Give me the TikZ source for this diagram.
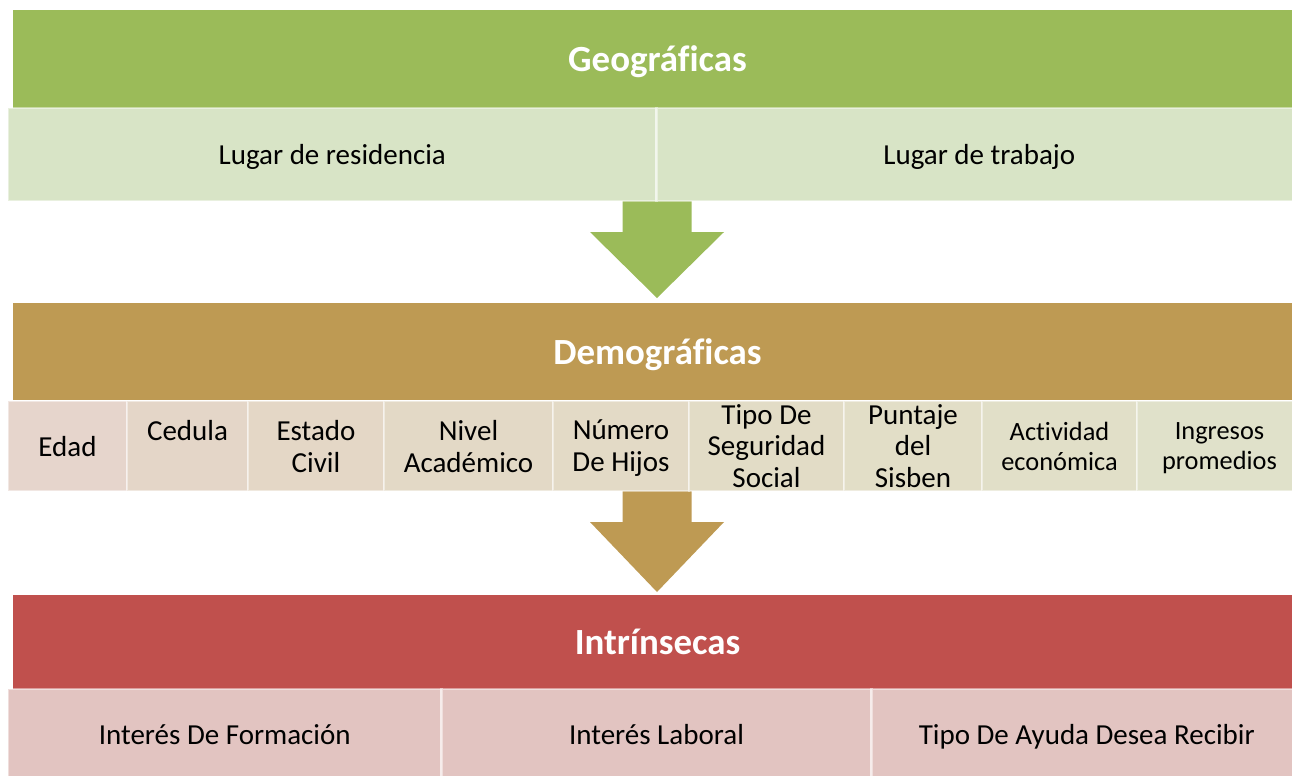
\documentclass[tikz,border=0pt]{standalone}
\usepackage{fontspec}
\setmainfont{Carlito}[Ligatures=NoCommon]
\usetikzlibrary{calc}

\definecolor{geoHead}{HTML}{9BBB59}
\definecolor{geoCell}{HTML}{D8E4C6}
\definecolor{demoHead}{HTML}{BE9A53}
\definecolor{intrHead}{HTML}{C0504D}
\definecolor{intrCell}{HTML}{E2C4C1}

% block arrow pointing down: colour, top point, tip
\newcommand{\blockarrow}[3]{%
  \fill[#1] ($(#2)+(-34.5,0)$) -- ($(#2)+(34.5,0)$) -- ($(#2)+(34.5,32)$)
    -- ($(#2)+(67,32)$) -- (#3) -- ($(#2)+(-67,32)$) -- ($(#2)+(-34.5,32)$) -- cycle;}

\begin{document}
\begin{tikzpicture}[x=0.02cm,y=-0.02cm,
  head/.style 2 args={rectangle,anchor=north west,inner sep=0pt,outer sep=0pt,
    fill=#1,text=white,minimum width=1289*0.02cm,minimum height=#2*0.02cm,
    font=\fontsize{21}{25}\selectfont\bfseries,text depth=0pt},
  cell/.style 2 args={rectangle,anchor=north west,inner sep=0pt,outer sep=0pt,
    draw=white,draw opacity=0.45,line width=1.6pt,align=center,
    minimum width=#1*0.02cm,minimum height=#2*0.02cm,
    font=\fontsize{16.5}{18.2}\selectfont,text depth=0pt},
  small/.style={font=\fontsize{15}{17}\selectfont},
  oneline/.style={text height=13.5pt}]

\useasboundingbox (0,0) rectangle (1292,775);

% headers
\node[head={geoHead}{98}] (geo) at (13,10) {Geográficas};
\node[head={demoHead}{97}] (demo) at (13,303) {Demográficas};
\node[head={intrHead}{94}] (intr) at (13,595) {Intrínsecas};

% arrows
\coordinate (topA) at (657,200);
\coordinate (tipA) at (657,298);
\coordinate (topB) at (657,490);
\coordinate (tipB) at (657,592);
\blockarrow{geoHead}{topA}{tipA}
\blockarrow{demoHead}{topB}{tipB}

% geograficas
\node[cell={648.5}{93},fill=geoCell] (geoA) at (8,108) {Lugar de residencia};
\node[cell={645.5}{93},fill=geoCell] (geoB) at (656.5,108) {Lugar de trabajo};

% demograficas
\node[cell={119}{90},fill={rgb,255:red,230;green,213;blue,204}] (edad) at (8,401) {Edad};
\node[cell={121}{90},fill={rgb,255:red,228;green,214;blue,200}] (cedula) at (127,401) {Cedula\\\mbox{}};
\node[cell={136}{90},fill={rgb,255:red,228;green,215;blue,198}] (civil) at (248,401) {Estado\\Civil};
\node[cell={169}{90},fill={rgb,255:red,227;green,217;blue,198}] (nivel) at (384,401) {Nivel\\Académico};
\node[cell={136}{90},fill={rgb,255:red,227;green,218;blue,198}] (hijos) at (553,401) {Número\\De Hijos};
\node[cell={155}{90},fill={rgb,255:red,226;green,220;blue,198}] (seguridad) at (689,401) {Tipo De\\Seguridad\\Social};
\node[cell={138}{90},fill={rgb,255:red,226;green,222;blue,199}] (sisben) at (844,401) {Puntaje\\del\\Sisben};
\node[cell={155}{90},fill={rgb,255:red,225;green,223;blue,200},small] (actividad) at (982,401) {Actividad\\económica};
\node[cell={165}{90},fill={rgb,255:red,224;green,225;blue,202},small] (ingresos) at (1137,401) {Ingresos\\promedios};

% intrinsecas
\node[cell={433.5}{88},fill=intrCell,oneline] (formacion) at (8,689) {Interés De Formación};
\node[cell={430}{88},fill=intrCell,oneline] (laboral) at (441.5,689) {Interés Laboral};
\node[cell={430.5}{88},fill=intrCell,oneline] (ayuda) at (871.5,689) {Tipo De Ayuda Desea Recibir};

\end{tikzpicture}
\end{document}
